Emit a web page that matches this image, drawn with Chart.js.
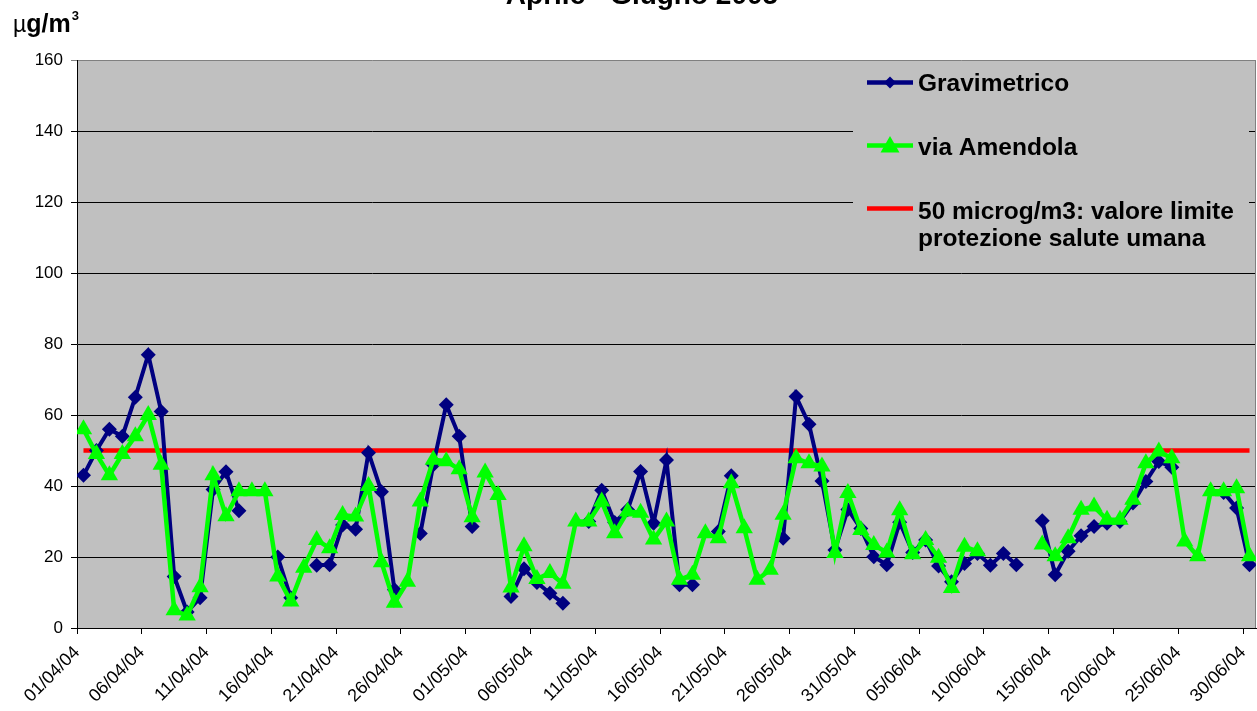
<!DOCTYPE html>
<html>
<head>
<meta charset="utf-8">
<script src="https://cdn.jsdelivr.net/npm/chart.js@4/dist/chart.umd.min.js"></script>
<style>
  html, body { margin: 0; padding: 0; background: #ffffff; }
  #wrap { width: 1257px; height: 711px; position: relative; overflow: hidden; }
  canvas { display: block; }
</style>
</head>
<body>
<div id="wrap"><canvas id="pm10" width="1257" height="711"></canvas></div>
<script>
// Daily sampling days, 1 April - 30 June 2004
const days = [
  "01/04/04","02/04/04","03/04/04","04/04/04","05/04/04","06/04/04","07/04/04","08/04/04","09/04/04","10/04/04",
  "11/04/04","12/04/04","13/04/04","14/04/04","15/04/04","16/04/04","17/04/04","18/04/04","19/04/04","20/04/04",
  "21/04/04","22/04/04","23/04/04","24/04/04","25/04/04","26/04/04","27/04/04","28/04/04","29/04/04","30/04/04",
  "01/05/04","02/05/04","03/05/04","04/05/04","05/05/04","06/05/04","07/05/04","08/05/04","09/05/04","10/05/04",
  "11/05/04","12/05/04","13/05/04","14/05/04","15/05/04","16/05/04","17/05/04","18/05/04","19/05/04","20/05/04",
  "21/05/04","22/05/04","23/05/04","24/05/04","25/05/04","26/05/04","27/05/04","28/05/04","29/05/04","30/05/04",
  "31/05/04","01/06/04","02/06/04","03/06/04","04/06/04","05/06/04","06/06/04","07/06/04","08/06/04","09/06/04",
  "10/06/04","11/06/04","12/06/04","13/06/04","14/06/04","15/06/04","16/06/04","17/06/04","18/06/04","19/06/04",
  "20/06/04","21/06/04","22/06/04","23/06/04","24/06/04","25/06/04","26/06/04","27/06/04","28/06/04","29/06/04",
  "30/06/04"
];

// PM10 daily concentrations (µg/m3); null = no sample that day
const gravimetrico = [
  43, 50, 56, 54, 65, 77, 61, 14.5, 4.5, 8.5,
  39, 44, 33, null, null, 20, 8.5, null, 17.7, 17.8,
  29, 27.8, 49.4, 38.4, 10.8, null, 26.6, 46, 62.9, 54,
  28.6, null, null, 8.9, 16.7, 12.8, 9.8, 7, null, 30,
  38.8, 29.7, 33.3, 44.1, 29.5, 47.3, 12.2, 12.2, null, 27.2,
  42.9, null, null, null, 25.3, 65.2, 57.4, 41.4, 22, 33.4,
  28, 20.1, 17.8, 29.8, 21.3, 24.8, 17.5, 13, 18.2, 21,
  17.7, 21, 17.8, null, 30.2, 15, 21.6, 26, 28.6, 29.5,
  30, 35.2, 41.3, 46.9, 45.3, null, null, null, 38.2, 33.8,
  17.8
];

const viaAmendola = [
  56, 49, 43, 49, 54, 60, 46, 5, 3.5, 11.5,
  43, 31.5, 38.5, 38.5, 38.5, 14.5, 7.5, 17, 24.8, 22.5,
  31.8, 31.4, 40, 18.5, 7.1, 13, 35.6, 47.4, 47, 44.7,
  31.2, 43.8, 37.5, 11.4, 23, 13.8, 15.5, 12.5, 30, 30,
  35.6, 26.7, 32.8, 32.5, 24.9, 30, 13.6, 15, 26.7, 25.3,
  40.8, 28.1, 13.6, 16.4, 31.9, 47.8, 46.4, 45.5, 21.1, 38,
  27.6, 23.4, 21.3, 33.2, 20.8, 24.8, 19.8, 11.3, 22.9, 21.6,
  null, null, null, null, 23.5, 20.2, 25.3, 33.3, 34.2, 30.5,
  30.5, 36.1, 46.4, 49.7, 47.8, 24.4, 20.2, 38.5, 38.5, 39.4,
  20.2
];

// Daily limit value for human health protection
const limitValue = 50;

// Axis settings
const yTicks = [0, 20, 40, 60, 80, 100, 120, 140, 160];
const dateTickEvery = 5;

const seriesNames = ["Gravimetrico", "via Amendola", ["50 microg/m3: valore limite", "protezione salute umana"]];
const chartTitle = "Aprile - Giugno 2005";

const FONT = '"Liberation Sans", Arial, sans-serif';
const NAVY = "#000080";
const GREEN = "#00FF00";
const RED = "#FF0000";
const PLOT_BG = "#C0C0C0";

// each day is plotted at the middle of its date interval
const toPoints = arr => arr.map((v, i) => ({ x: i + 0.5, y: v }));

const plotBackground = {
  id: "plotBackground",
  beforeDraw(chart) {
    const { ctx, chartArea: a } = chart;
    ctx.save();
    ctx.fillStyle = "#ffffff";
    ctx.fillRect(0, 0, chart.width, chart.height);
    ctx.fillStyle = PLOT_BG;
    ctx.fillRect(a.left, a.top, a.right - a.left, a.bottom - a.top);
    ctx.restore();
  },
  beforeDatasetsDraw(chart) {
    const { ctx, chartArea: a } = chart;
    ctx.save();
    ctx.strokeStyle = "#808080";
    ctx.lineWidth = 1;
    ctx.beginPath();
    ctx.moveTo(a.right - 0.5, a.top);
    ctx.lineTo(a.right - 0.5, a.bottom);
    ctx.stroke();
    ctx.restore();
  }
};

const annotations = {
  id: "annotations",
  afterDraw(chart) {
    const { ctx } = chart;
    ctx.save();
    ctx.fillStyle = "#000";
    ctx.textBaseline = "alphabetic";

    // title
    ctx.font = "bold 28px " + FONT;
    ctx.textAlign = "center";
    ctx.fillText(chartTitle, 642, 3.5);

    // unit label
    ctx.textAlign = "left";
    ctx.font = "23px " + FONT;
    ctx.fillText("\u00B5", 13, 32);
    let x = 13 + ctx.measureText("\u00B5").width;
    ctx.font = "bold 25px " + FONT;
    ctx.fillText("g/m", x, 32);
    x += ctx.measureText("g/m").width + 1;
    ctx.font = "bold 13px " + FONT;
    ctx.fillText("3", x, 20);

    // legend
    ctx.fillStyle = PLOT_BG;
    ctx.fillRect(853, 63, 396, 198);
    const lx0 = 867, lx1 = 913, mx = 890, tx = 918;
    ctx.lineCap = "butt";

    // Gravimetrico
    ctx.strokeStyle = NAVY;
    ctx.lineWidth = 4.5;
    ctx.beginPath(); ctx.moveTo(lx0, 82.5); ctx.lineTo(lx1, 82.5); ctx.stroke();
    ctx.fillStyle = NAVY;
    ctx.beginPath();
    ctx.moveTo(mx - 6, 82.5); ctx.lineTo(mx, 76.5); ctx.lineTo(mx + 6, 82.5); ctx.lineTo(mx, 88.5);
    ctx.closePath(); ctx.fill();

    // via Amendola
    ctx.strokeStyle = GREEN;
    ctx.beginPath(); ctx.moveTo(lx0, 145.5); ctx.lineTo(lx1, 145.5); ctx.stroke();
    ctx.fillStyle = GREEN;
    ctx.beginPath();
    ctx.moveTo(mx, 136); ctx.lineTo(mx + 9.5, 152.5); ctx.lineTo(mx - 9.5, 152.5);
    ctx.closePath(); ctx.fill();

    // limit line
    ctx.strokeStyle = RED;
    ctx.beginPath(); ctx.moveTo(lx0, 208.5); ctx.lineTo(lx1, 208.5); ctx.stroke();

    ctx.fillStyle = "#000";
    ctx.font = "bold 24.5px " + FONT;
    ctx.fillText(seriesNames[0], tx, 90.5);
    ctx.fillText(seriesNames[1], tx, 155);
    ctx.fillText(seriesNames[2][0], tx, 218.5);
    ctx.fillText(seriesNames[2][1], tx, 245.5);
    ctx.restore();
  }
};

new Chart(document.getElementById("pm10"), {
  type: "line",
  data: {
    datasets: [
      {
        label: "via Amendola",
        data: toPoints(viaAmendola),
        borderColor: GREEN,
        backgroundColor: GREEN,
        borderWidth: 4.5,
        pointStyle: "triangle",
        pointRadius: 10,
        pointBorderWidth: 0,
        pointBackgroundColor: GREEN,
        spanGaps: false,
        order: 0
      },
      {
        label: "Gravimetrico",
        data: toPoints(gravimetrico),
        borderColor: NAVY,
        backgroundColor: NAVY,
        borderWidth: 4,
        pointStyle: "rectRot",
        pointRadius: 7.5,
        pointBorderWidth: 0,
        pointBackgroundColor: NAVY,
        spanGaps: false,
        order: 1
      },
      {
        label: "50 microg/m3: valore limite protezione salute umana",
        data: toPoints(days.map(() => limitValue)),
        borderColor: RED,
        borderWidth: 4.5,
        pointRadius: 0,
        order: 2
      }
    ]
  },
  options: {
    responsive: false,
    animation: false,
    devicePixelRatio: 1,
    events: [],
    elements: { line: { tension: 0 } },
    layout: { autoPadding: false, padding: { top: 60, right: 1, left: 0, bottom: 0 } },
    plugins: {
      legend: { display: false },
      tooltip: { enabled: false },
      title: { display: false }
    },
    scales: {
      x: {
        type: "linear",
        min: 0,
        max: days.length,
        afterBuildTicks(scale) {
          scale.ticks = days
            .map((d, i) => i)
            .filter(i => i % dateTickEvery === 0)
            .map(i => ({ value: i }));
        },
        afterFit(scale) {
          scale.height = 83;
          scale.paddingLeft = 0;
          scale.paddingRight = 0;
        },
        ticks: {
          autoSkip: false,
          minRotation: 45,
          maxRotation: 45,
          padding: 8,
          color: "#000",
          font: { family: FONT, size: 18 },
          callback: v => days[v]
        },
        grid: {
          drawOnChartArea: false,
          drawTicks: true,
          tickLength: 6,
          color: "#000",
          lineWidth: 1
        },
        border: { display: true, color: "#000", width: 1 }
      },
      y: {
        min: 0,
        max: 160,
        afterBuildTicks(scale) {
          scale.ticks = yTicks.map(v => ({ value: v }));
        },
        afterFit(scale) {
          scale.width = 77;
          scale.paddingTop = 0;
          scale.paddingBottom = 0;
        },
        ticks: {
          padding: 8,
          color: "#000",
          font: { family: FONT, size: 17 }
        },
        grid: {
          color: c => (c.tick && c.tick.value === 160 ? "#808080" : "#000"),
          lineWidth: 1,
          tickLength: 6
        },
        border: { display: true, color: "#000", width: 1 }
      }
    }
  },
  plugins: [plotBackground, annotations]
});
</script>
</body>
</html>
